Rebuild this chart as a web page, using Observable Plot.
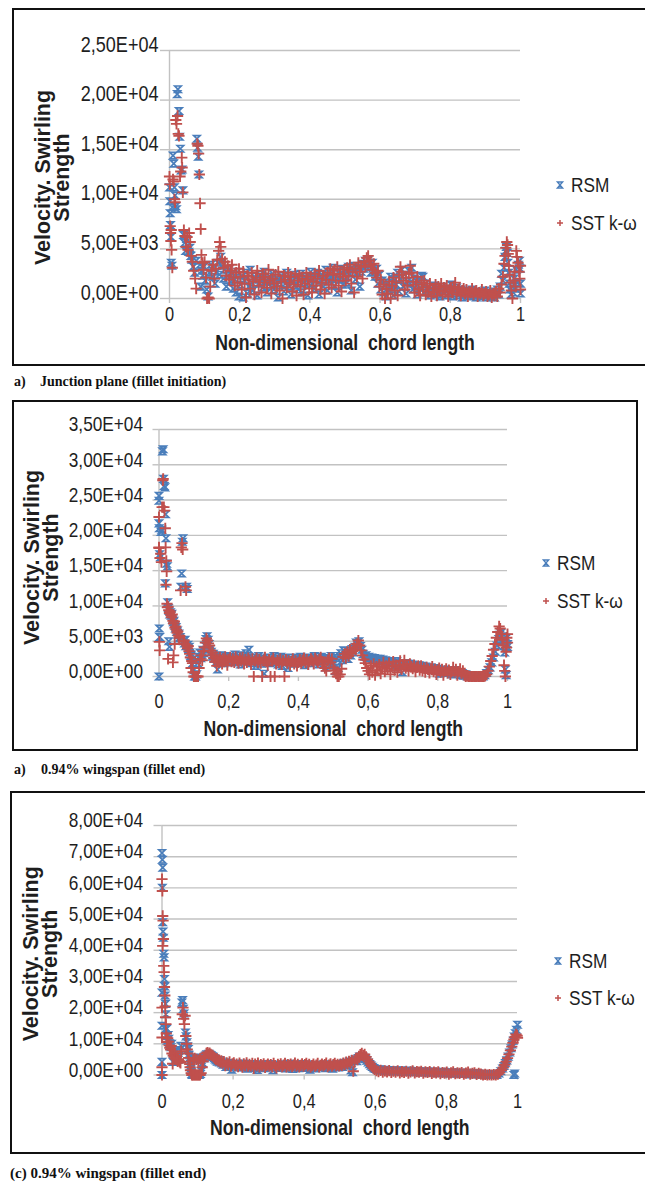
<!DOCTYPE html>
<html><head><meta charset="utf-8">
<script src="https://cdn.jsdelivr.net/npm/d3@7"></script>
<script src="https://cdn.jsdelivr.net/npm/@observablehq/plot@0.6"></script>
<style>
html,body{margin:0;padding:0;background:#fff;overflow:hidden;width:645px;height:1185px;position:relative;}
.box{position:absolute;border:2px solid #111;box-sizing:border-box;}
.svgwrap{position:absolute;left:0;}
.leg{position:absolute;font-family:"Liberation Sans",Arial,sans-serif;font-size:21px;color:#1e1e1e;}
.leg .row{display:flex;align-items:center;white-space:nowrap;}
.leg .row span{display:inline-block;transform:scaleX(0.82);transform-origin:left center;margin-left:6px;}
.leg svg{overflow:visible;}
.cap{position:absolute;font-family:"Liberation Serif","Times New Roman",serif;font-weight:bold;white-space:pre;color:#111;line-height:16px;}
</style></head><body>
<script>
// ---------- data ----------
const xTicks = [0, 0.2, 0.4, 0.6, 0.8, 1];
const yTicksA = [0, 5000, 10000, 15000, 20000, 25000];
const yTicksB = [0, 5000, 10000, 15000, 20000, 25000, 30000, 35000];
const yTicksC = [0, 10000, 20000, 30000, 40000, 50000, 60000, 70000, 80000];
const seriesNames = ["RSM", "SST k-ω"];
const xTitle = "Non-dimensional  chord length";
const yTitle = "Velocity. Swirling\nStrength";
const captions = [["a)", "Junction plane (fillet initiation)"], ["a)", "0.94% wingspan (fillet end)"], ["", "(c) 0.94% wingspan (fillet end)"]];

// panel (a) junction plane
const rsmA = [[0,11200],[.001,9800],[.002,8600],[.003,7400],[.004,6200],[.005,3600],[.007,3300],[.008,9200],[.01,14400],[.012,13600],[.014,11200],[.016,10400],[.018,9300],[.02,9000],[.022,20600],[.024,21100],[.027,18900],[.029,16300],[.031,15100],[.033,12900],[.036,13000],[.038,10900],[.04,6400],[.043,5600],[.046,4800],[.049,6000],[.052,5400],[.055,4700],[.058,5100],[.061,4300],[.064,3900],[.068,3200],[.072,2600],[.076,3800],[.078,16100],[.08,15200],[.082,14300],[.084,12500],[.087,3400],[.089,1200],[.092,2800],[.095,2300],[.098,3200],
[.102,1800],[.106,900],[.11,200],[.114,2600],[.118,3400],[.122,2200],[.126,3100],[.13,1500],[.134,2700],[.138,3600],[.142,2400],[.146,4200],[.15,3300],[.154,2000],[.158,2900],[.162,1200],[.166,2300],[.17,3000],[.174,1700],[.178,2500],[.182,1000],[.186,1900],[.19,600],[.194,2700],[.198,200],
[.202,1400],[.206,2300],[.21,100],[.214,1800],[.218,2600],[.222,500],[.226,1200],[.23,2900],[.234,1600],[.238,800],[.242,2200],[.246,1900],[.25,300],[.254,1500],[.258,2400],[.262,2000],[.266,1100],[.27,2700],[.274,1800],[.278,600],[.282,1400],[.286,2200],[.29,1700],[.294,2500],[.298,900],[.302,1300],[.306,2100],[.31,100],[.314,1600],[.318,2300],[.322,1900],[.326,700],[.33,1500],[.334,2600],[.338,2000],[.342,1200],[.346,400],[.35,1800],[.354,2400],[.358,1300],[.362,2100],[.366,900],[.37,1700],[.374,2500],[.378,600],[.382,1600],[.386,2200],[.39,1400],[.394,300],[.398,2000],[.402,2700],[.406,1500],[.41,2300],[.414,1000],[.418,1900],[.422,2600],[.426,400],[.43,1800],[.434,2400],[.438,1200],[.442,2100],[.446,2900],[.45,800],[.454,1700],[.458,2500],[.462,2000],[.466,3100],[.47,1300],[.474,2200],[.478,600],[.482,2700],[.486,1900],[.49,3000],[.494,1400],[.498,2300],
[.502,2800],[.506,1600],[.51,3200],[.514,2500],[.518,800],[.522,2900],[.526,3300],[.53,1900],[.534,2600],[.538,3100],[.542,1200],[.546,2700],[.55,3500],[.554,3000],[.558,3800],[.562,3400],[.566,3900],[.57,3200],[.574,2600],[.578,3600],[.582,2800],[.586,2200],[.59,3000],[.594,1500],[.598,2400],[.602,900],[.606,1800],[.61,600],[.614,1300],[.618,200],
[.622,1600],[.626,800],[.63,2200],[.634,1100],[.638,300],[.642,1900],[.646,1400],[.65,2600],[.654,700],[.658,2000],[.662,2900],[.666,1200],[.67,2400],[.674,500],[.678,1700],[.682,2800],[.686,1500],[.69,3100],[.694,900],[.698,2000],[.702,1300],[.706,400],[.71,1800],[.714,1100],[.718,2300],[.722,2200],[.726,600],[.73,1500],[.734,900],[.738,1200],[.742,300],[.746,1000],
[.75,700],[.754,1300],[.758,400],[.762,900],[.766,1100],[.77,200],[.774,800],[.778,1200],[.782,500],[.786,900],[.79,300],[.794,1000],[.798,600],[.802,1400],[.806,200],[.81,800],[.814,500],[.818,1100],[.822,300],[.826,700],[.83,900],[.834,100],[.838,600],[.842,800],[.846,400],[.85,700],[.854,200],[.858,500],[.862,900],[.866,300],[.87,600],[.874,100],[.878,400],[.882,700],[.886,200],[.89,500],[.894,300],[.898,800],[.902,100],[.906,400],[.91,600],[.914,200],[.918,300],[.922,700],[.926,100],[.93,500],[.934,900],[.938,400],[.942,1200],
[.946,2500],[.95,1800],[.953,3100],[.956,4200],[.958,4800],[.96,5200],[.962,4600],[.964,3600],[.966,2600],[.968,1500],[.97,900],[.973,400],[.976,1200],[.979,600],[.982,2000],[.985,1000],[.988,2900],[.991,1600],[.994,3400],[.997,3800],[.999,3000],[1,1500],[1,500]];
const sstA = [[0,12300],[.001,11500],[.002,7300],[.003,6600],[.004,5800],[.005,6900],[.006,4900],[.008,3100],[.01,12000],[.012,11800],[.014,10000],[.016,9700],[.018,18000],[.02,17600],[.023,18400],[.025,16600],[.027,16400],[.03,12300],[.032,12800],[.035,14200],[.036,13200],[.038,10700],[.041,6900],[.044,6300],[.047,5200],[.05,6200],[.053,4900],[.056,6600],[.059,5700],[.062,4300],[.065,3700],[.069,2800],[.073,2000],[.076,1000],[.079,15600],[.081,15400],[.083,14600],[.085,12500],[.087,9600],[.089,7000],[.091,4400],[.094,3600],[.097,2900],[.1,3700],
[.104,2100],[.107,0],[.11,100],[.113,0],[.116,1200],[.12,2800],[.124,3400],[.128,2000],[.132,3000],[.136,3900],[.14,4800],[.143,5700],[.146,5200],[.15,4000],[.154,3100],[.158,3700],[.162,2300],[.166,3300],[.17,1900],[.174,2800],[.178,3400],[.182,2100],[.186,1300],[.19,2600],[.194,1600],[.198,3000],
[.202,2200],[.206,900],[.21,2700],[.214,1500],[.218,100],[.222,2300],[.226,1900],[.23,1000],[.234,2600],[.238,1700],[.242,400],[.246,2100],[.25,2800],[.254,1300],[.258,1900],[.262,600],[.266,2500],[.27,1600],[.274,2200],[.278,1100],[.282,2900],[.286,1800],[.29,500],[.294,2000],[.298,1500],[.302,2400],[.306,1200],[.31,2700],[.314,800],[.318,1700],[.322,0],[.326,2300],[.33,1900],[.334,1100],[.338,2600],[.342,1600],[.346,2200],[.35,700],[.354,1400],[.358,2500],[.362,300],[.366,1800],[.37,2300],[.374,1200],[.378,2000],[.382,400],[.386,1500],[.39,2600],[.394,1900],[.398,1000],[.402,2200],[.406,600],[.41,1700],[.414,2500],[.418,1300],[.422,2000],[.426,2800],[.43,900],[.434,1600],[.438,2300],[.442,500],[.446,1900],[.45,2600],[.454,1400],[.458,3000],[.462,1100],[.466,2400],[.47,2900],[.474,1800],[.478,3200],[.482,1300],[.486,2500],[.49,700],[.494,2200],[.498,2900],
[.502,1800],[.506,3100],[.51,2300],[.514,3400],[.518,1500],[.522,2700],[.526,600],[.53,3000],[.534,2200],[.538,3600],[.542,2700],[.546,3300],[.55,2000],[.554,3700],[.558,3200],[.562,4100],[.566,4300],[.57,3800],[.574,3400],[.578,2900],[.582,3500],[.586,2600],[.59,2100],[.594,2800],[.598,1200],[.602,1900],[.606,400],[.61,1400],[.614,0],[.618,1000],
[.622,500],[.626,1700],[.63,0],[.634,1300],[.638,2100],[.642,800],[.646,1600],[.65,300],[.654,2400],[.658,3200],[.662,2700],[.666,1800],[.67,900],[.674,2100],[.678,1300],[.682,2500],[.686,3300],[.69,2600],[.694,1700],[.698,600],[.702,1400],[.706,2200],[.71,900],[.714,300],[.718,1600],[.722,1100],[.726,1800],[.73,400],[.734,1300],[.738,700],[.742,1500],[.746,200],
[.75,1000],[.754,600],[.758,1400],[.762,300],[.766,1200],[.77,800],[.774,1500],[.778,400],[.782,1100],[.786,700],[.79,1300],[.794,200],[.798,900],[.802,1000],[.806,600],[.81,1200],[.814,1600],[.818,400],[.822,900],[.826,1100],[.83,300],[.834,800],[.838,1000],[.842,500],[.846,900],[.85,200],[.854,700],[.858,600],[.862,1000],[.866,400],[.87,700],[.874,800],[.878,200],[.882,600],[.886,500],[.89,900],[.894,300],[.898,500],[.902,700],[.906,200],[.91,400],[.914,800],[.918,100],[.922,500],[.926,300],[.93,700],[.934,200],[.938,1000],[.942,600],
[.946,1400],[.95,2200],[.953,3500],[.956,4300],[.958,5100],[.961,5700],[.963,5400],[.965,4500],[.967,3300],[.969,2400],[.971,1600],[.974,800],[.977,0],[.98,1800],[.983,2700],[.986,1200],[.988,4800],[.99,4200],[.993,3600],[.996,2700],[.998,2000],[1,900],[1,3300]];

// panel (b) 0.94% wingspan
const rsmB = [[0,25600],[0,24900],[0,21700],[.001,21000],[.002,17300],[.001,6800],[.002,5600],[0,0],[.004,16900],[.006,20500],[.008,20800],[.01,31900],[.012,32200],[.013,28000],[.015,27000],[.017,26800],[.019,23000],[.02,19600],[.022,16000],[.018,13200],[.024,15600],[.025,10500],[.027,9700],[.029,9300],[.031,8800],[.028,5000],[.03,4200],
[.033,9100],[.035,8600],[.037,8900],[.039,8100],[.041,7700],[.043,7900],[.045,7200],[.047,6800],[.049,7000],[.051,6300],[.053,6500],[.055,5900],[.057,6100],[.059,5400],[.061,5600],[.063,12700],[.065,14600],[.067,19100],[.069,19600],[.071,5000],[.073,4700],[.075,5200],[.077,4300],[.079,12700],[.081,12400],[.083,4500],[.085,3900],[.087,4200],[.089,3400],[.091,2900],[.093,3100],[.095,1800],[.097,2400],[.1,900],
[.102,0],[.105,0],[.108,300],[.111,1900],[.114,2800],[.117,3400],[.12,2600],[.123,3100],[.126,3800],[.129,3300],[.132,4400],[.135,5300],[.138,5700],[.141,5200],[.144,4600],[.147,3900],[.15,3500],[.153,2800],[.156,3200],[.159,2500],[.162,2900],[.165,2100],[.168,1000],[.171,2600],[.174,2300],[.177,3000],[.18,2200],[.183,2700],[.186,1900],[.189,2400],[.192,2900],[.195,2100],[.198,2600],
[.202,2300],[.206,2800],[.21,2000],[.214,2600],[.218,3100],[.222,2200],[.226,2500],[.23,3000],[.234,1700],[.238,2400],[.242,2900],[.246,2100],[.25,3300],[.254,2600],[.258,3800],[.262,2300],[.266,1900],[.27,2700],[.274,2200],[.278,1500],[.282,2600],[.286,2900],[.29,2300],[.294,1800],[.298,2500],[.302,400],[.306,2100],[.31,2700],[.314,2200],[.318,1900],[.322,2600],[.326,2300],[.33,2900],[.334,2000],[.338,2500],[.342,1700],[.346,2200],[.35,2800],[.354,1500],[.358,2100],[.362,2600],[.366,2300],[.37,1200],[.374,2000],[.378,2700],[.382,2200],[.386,1800],[.39,2400],[.394,2600],[.398,1900],[.402,2300],[.406,2800],[.41,2100],[.414,2500],[.418,1600],[.422,2200],[.426,2700],[.43,2400],[.434,1900],[.438,2600],[.442,2300],[.446,2900],[.45,2100],[.454,2500],[.458,1700],[.462,2400],[.466,2800],[.47,2200],[.474,2600],[.478,1300],[.482,2500],[.486,2200],[.49,1600],[.494,2900],[.498,2400],
[.502,1900],[.506,800],[.51,2600],[.514,1200],[.518,2900],[.522,3300],[.526,2300],[.53,3700],[.534,2800],[.538,3300],[.542,2500],[.546,3600],[.55,3000],[.554,3900],[.558,3400],[.562,4200],[.566,4800],[.57,4500],[.574,5000],[.578,4300],[.582,3800],[.586,3200],[.59,2800],[.594,3000],[.598,2700],[.602,2800],[.606,2600],
[.61,2700],[.614,2500],[.618,2600],[.622,2400],[.626,2500],[.63,2300],[.634,2500],[.638,2200],[.642,2400],[.646,2100],[.65,2300],[.654,2000],[.658,2200],[.662,1900],[.666,2100],[.67,1300],[.674,2000],[.678,1800],[.682,2200],[.686,1600],[.69,1900],[.694,1700],[.698,600],[.702,1800],[.706,1500],[.71,1900],[.714,1600],[.718,1800],[.722,1400],[.726,1700],[.73,1300],[.734,1600],[.738,1500],[.742,1200],[.746,1600],
[.75,1300],[.755,1500],[.76,1100],[.765,1400],[.77,1200],[.775,1000],[.78,1300],[.785,900],[.79,1200],[.795,800],[.8,1100],[.805,400],[.81,900],[.815,1000],[.82,700],[.825,900],[.83,500],[.835,800],[.84,300],[.845,700],[.85,900],[.855,400],[.86,600],[.865,200],[.87,500],[.875,100],[.88,300],[.885,0],[.89,200],[.895,0],[.9,0],[.905,100],[.91,0],[.915,0],[.92,0],[.925,100],[.93,0],[.935,200],[.94,500],[.945,900],
[.95,1300],[.955,2000],[.96,2700],[.965,3500],[.97,4400],[.975,5300],[.978,5900],[.981,6200],[.984,5700],[.987,5000],[.99,4300],[.992,3400],[.994,1000],[.996,200],[.998,5500],[1,4600],[1,4200]];
const sstB = [[0,18200],[0,22600],[0,18300],[.001,4900],[.002,3700],[.003,16800],[.005,17400],[.007,16200],[.009,24000],[.011,27800],[.012,28000],[.014,24000],[.016,23500],[.018,21000],[.019,18300],[.021,16400],[.022,14900],[.02,13000],[.023,10300],[.024,9800],[.026,9900],[.028,9400],[.03,9000],[.026,2500],
[.032,9200],[.034,8700],[.036,8400],[.038,8800],[.04,7900],[.042,7500],[.044,7800],[.046,6900],[.048,7100],[.05,6600],[.052,6200],[.054,6400],[.056,5800],[.058,5500],[.06,5700],[.062,12200],[.064,18300],[.066,18900],[.068,18000],[.07,4900],[.072,5100],[.074,4600],[.076,12700],[.078,12200],[.08,4400],[.082,4000],[.084,4300],[.086,3600],[.088,3200],[.09,2700],[.092,1200],[.094,2200],[.096,1900],[.098,600],[.045,4600],[.042,3000],[.04,2000],
[.1,0],[.103,0],[.106,0],[.109,0],[.112,0],[.115,1200],[.118,2500],[.121,3000],[.124,2300],[.127,3600],[.13,4100],[.133,4800],[.136,5400],[.139,5100],[.142,4700],[.145,4400],[.148,3700],[.151,3000],[.154,3400],[.157,2600],[.16,2100],[.163,2800],[.166,1500],[.169,2400],[.172,2000],[.175,2700],[.178,2300],[.181,1800],[.184,2500],[.187,2100],[.19,2800],[.193,2300],[.196,1600],[.199,2400],
[.204,2700],[.208,2100],[.212,2500],[.216,2000],[.22,2800],[.224,2300],[.228,1900],[.232,2600],[.236,2200],[.24,2700],[.244,1800],[.248,2400],[.252,2000],[.256,2600],[.26,2300],[.264,1700],[.268,2500],[.272,0],[.276,2200],[.28,2600],[.284,2000],[.288,2400],[.292,1900],[.296,0],[.3,2300],[.304,2700],[.308,2100],[.312,1600],[.316,2400],[.32,0],[.324,2200],[.328,2600],[.332,0],[.336,1800],[.34,2300],[.344,2000],[.348,2500],[.352,1700],[.356,2200],[.36,0],[.364,2400],[.368,1900],[.372,2200],[.376,1600],[.38,2100],[.384,2500],[.388,1800],[.392,2200],[.396,1500],[.4,2000],[.404,2400],[.408,1900],[.412,2300],[.416,2600],[.42,2000],[.424,2400],[.428,1700],[.432,2100],[.436,2500],[.44,2200],[.444,1800],[.448,2600],[.452,2300],[.456,2000],[.46,2400],[.464,2700],[.468,2100],[.472,1700],[.476,1200],[.48,800],[.484,2300],[.488,2600],[.492,2000],[.496,2500],
[.5,1300],[.504,900],[.508,400],[.512,0],[.516,0],[.52,300],[.524,1100],[.528,2800],[.532,3200],[.536,2600],[.54,3500],[.544,2900],[.548,3800],[.552,3300],[.556,3600],[.56,4100],[.564,3800],[.568,4600],[.572,5100],[.576,4400],[.58,3700],[.584,3000],[.588,2400],[.592,1900],[.596,1200],[.6,800],[.604,300],[.608,1500],
[.612,600],[.616,1800],[.62,200],[.624,1400],[.628,900],[.632,1700],[.636,400],[.64,1300],[.644,2000],[.648,700],[.652,1500],[.656,1100],[.66,1900],[.664,300],[.668,1400],[.672,2100],[.676,900],[.68,1600],[.684,600],[.688,1300],[.692,2200],[.696,1000],[.7,1700],[.704,2300],[.708,1200],[.712,1500],[.716,800],[.72,1800],[.724,1400],[.728,1100],[.732,1600],[.736,700],[.74,1300],[.744,1500],[.748,900],
[.752,1500],[.756,800],[.76,1200],[.764,600],[.768,1300],[.772,1000],[.776,500],[.78,1100],[.784,1400],[.788,700],[.792,1000],[.796,300],[.8,900],[.804,1200],[.808,600],[.812,1000],[.816,200],[.82,800],[.824,1100],[.828,500],[.832,900],[.836,300],[.84,700],[.844,1300],[.848,600],[.852,1000],[.856,200],[.86,700],[.864,1100],[.868,400],[.872,800],[.876,200],[.88,0],[.884,100],[.888,0],[.892,0],[.896,0],[.9,0],[.904,0],[.908,0],[.912,0],[.916,0],[.92,0],[.924,0],[.928,0],[.932,0],[.936,100],[.94,300],[.944,800],
[.948,1400],[.952,2200],[.956,2900],[.96,3800],[.964,4600],[.968,5500],[.972,6300],[.976,7100],[.979,6800],[.982,6000],[.985,5200],[.988,4400],[.99,1600],[.992,800],[.994,0],[.996,3500],[.998,5500],[1,6000],[1,4800],[.997,4100]];

// panel (c) 0.94% wingspan
const rsmC = [[0,71200],[.001,69000],[.002,66500],[.001,60000],[.002,49000],[.003,46000],[.004,44000],[0,26400],[0,15800],[0,4200],[0,0],[.005,38900],[.006,37700],[.007,30800],[.008,28400],[.009,25500],[.01,22800],[.011,19500],[.012,15000],[.013,14800],[.014,12500],[.015,11000],
[.017,12800],[.019,11600],[.021,10200],[.023,9400],[.025,8900],[.027,10000],[.029,7300],[.031,4200],[.033,6800],[.035,6200],[.037,7500],[.039,5600],[.041,6100],[.043,5300],[.045,4800],[.047,5500],[.05,8000],[.053,9400],[.056,23200],[.058,24000],[.06,21200],[.062,19700],[.066,13600],[.068,12400],[.07,10500],[.072,9200],[.074,8300],[.076,6500],[.078,5400],[.079,4600],[.08,3700],[.081,3000],[.082,2100],[.083,1000],[.084,300],[.085,0],
[.087,0],[.09,0],[.093,0],[.096,0],[.099,0],[.102,0],[.105,0],[.108,300],[.111,1200],[.114,3900],[.09,5200],[.095,5600],[.1,5100],[.105,5400],[.11,4800],[.117,5300],[.12,5900],[.123,6200],[.126,6600],[.129,6400],[.132,6800],[.135,6500],[.138,6300],[.141,6000],[.144,5800],[.147,5400],[.15,5000],[.153,4700],[.156,4300],[.159,4800],[.162,4000],[.165,4400],[.168,3700],
[.172,3300],[.176,4100],[.18,2600],[.184,3500],[.188,3000],[.192,3800],[.196,1700],[.2,3200],[.204,2700],[.208,3600],[.212,3100],[.216,2400],[.22,3400],[.224,2900],[.228,3700],[.232,2500],[.236,3200],[.24,2000],[.244,3000],[.248,3500],[.252,2600],[.256,3100],[.26,2300],[.264,3300],[.268,1600],[.272,2800],[.276,3400],[.28,2600],[.284,3000],[.288,2200],[.292,3200],[.296,2700],[.3,3500],[.304,2400],[.308,2900],[.312,1500],[.316,3100],[.32,2600],[.324,3300],[.328,2300],[.332,2800],[.336,3400],[.34,2500],[.344,3000],[.348,2100],[.352,3200],[.356,2700],[.36,3600],[.364,2400],[.368,1900],[.372,3100],[.376,2600],[.38,3300],[.384,2200],[.388,2900],[.392,3500],[.396,2500],[.4,3000],[.404,2300],[.408,3400],[.412,2700],[.416,1700],[.42,3200],[.424,2600],[.428,3000],[.432,2100],[.436,3300],[.44,2800],[.444,2400],[.448,3100],[.452,2600],[.456,3400],[.46,2200],[.464,2900],[.468,3300],[.472,2500],[.476,3000],[.48,2000],[.484,3200],[.488,2700],[.492,3500],[.496,2400],
[.5,3000],[.504,3400],[.508,2600],[.512,3800],[.516,3100],[.52,4000],[.524,3500],[.528,4300],[.532,1500],[.536,900],[.54,4600],[.544,5000],[.548,4400],[.552,5400],[.556,5900],[.56,5200],[.564,6000],[.568,5500],[.572,5100],[.576,4600],[.58,4000],[.584,3500],[.588,3000],[.592,2600],[.596,2200],
[.6,1900],[.606,1600],[.612,1800],[.618,1400],[.624,1700],[.63,1300],[.636,1600],[.642,1200],[.648,1500],[.654,1100],[.66,1400],[.666,1200],[.672,1500],[.678,1000],[.684,1300],[.69,1100],[.696,1400],[.702,900],[.708,1200],[.714,1000],[.72,1300],[.726,800],[.732,1100],[.738,900],[.744,1200],[.75,700],[.756,1000],[.762,800],[.768,1100],[.774,600],[.78,900],[.786,700],[.792,1000],[.798,500],[.804,800],[.81,600],[.816,900],[.822,400],[.828,700],[.834,500],[.84,800],[.846,300],[.852,600],[.858,400],[.864,700],[.87,200],[.876,500],[.882,300],[.888,600],[.894,100],[.9,400],[.906,200],[.912,0],[.918,300],[.924,100],[.93,0],[.936,200],[.942,0],[.948,500],
[.953,1200],[.958,2100],[.962,2900],[.966,3800],[.97,4700],[.974,5900],[.978,7200],[.982,8600],[.985,9800],[.988,11000],[.991,12300],[.994,13400],[.997,14500],[1,16100],[.99,0],[.992,500]];
const sstC = [[0,62800],[.001,59000],[.002,51000],[.003,49500],[.004,43600],[.002,41400],[.005,35000],[0,21600],[0,12000],[0,2500],[0,0],[.006,33000],[.007,28200],[.008,25500],[.009,22000],[.01,18500],[.011,16300],[.012,13300],[.013,12100],[.014,10600],
[.016,11800],[.018,10700],[.02,9500],[.022,8700],[.024,8200],[.026,9300],[.028,6900],[.03,3600],[.032,6300],[.034,5800],[.036,7000],[.038,5200],[.04,5700],[.042,4900],[.044,4400],[.046,5100],[.048,4600],[.05,4200],[.052,3900],[.054,7600],[.057,19500],[.059,21600],[.061,18000],[.063,16300],[.065,19000],[.067,12500],[.069,10000],[.071,8200],[.073,6900],[.075,5500],[.077,4300],[.078,3500],[.079,2500],[.08,1500],[.082,600],[.084,0],
[.086,0],[.089,0],[.092,0],[.095,0],[.098,0],[.101,0],[.104,0],[.107,0],[.11,600],[.113,2500],[.116,4400],[.088,4800],[.092,5300],[.097,5000],[.102,4700],[.107,5200],[.119,5600],[.122,6100],[.125,6900],[.128,7200],[.131,6700],[.134,7000],[.137,6600],[.14,6400],[.143,6100],[.146,5700],[.149,5300],[.152,4900],[.155,5200],[.158,4500],[.161,4800],[.164,4100],[.167,4500],
[.17,3800],[.174,4300],[.178,3000],[.182,3900],[.186,3300],[.19,4200],[.194,2800],[.198,3600],[.202,3900],[.206,3000],[.21,3500],[.214,2700],[.218,3800],[.222,3200],[.226,2500],[.23,3600],[.234,3000],[.238,3900],[.242,2800],[.246,3400],[.25,2900],[.254,3700],[.258,2100],[.262,3500],[.266,3000],[.27,3800],[.274,2600],[.278,3300],[.282,2900],[.286,3600],[.29,2400],[.294,3100],[.298,3500],[.302,2800],[.306,3300],[.31,2600],[.314,3700],[.318,3000],[.322,2300],[.326,3400],[.33,2900],[.334,3600],[.338,2700],[.342,3200],[.346,3700],[.35,2600],[.354,3300],[.358,2900],[.362,3500],[.366,2700],[.37,3200],[.374,3800],[.378,2900],[.382,3400],[.386,2600],[.39,3100],[.394,3600],[.398,2800],[.402,3300],[.406,3700],[.41,2900],[.414,3400],[.418,2500],[.422,3000],[.426,3500],[.43,2800],[.434,3200],[.438,3700],[.442,2600],[.446,3100],[.45,3500],[.454,2900],[.458,3300],[.462,3800],[.466,2700],[.47,3200],[.474,3600],[.478,2800],[.482,3300],[.486,3700],[.49,3000],[.494,3400],[.498,2900],
[.502,3500],[.506,3100],[.51,3800],[.514,3300],[.518,4100],[.522,3600],[.526,4400],[.53,3900],[.534,4700],[.538,1200],[.542,4200],[.546,5300],[.55,4900],[.554,6000],[.558,6500],[.562,6900],[.566,6200],[.57,6600],[.574,5800],[.578,5000],[.582,4300],[.586,3600],[.59,2900],[.594,2300],[.598,1800],
[.603,1400],[.609,1100],[.615,1500],[.621,900],[.627,1300],[.633,1000],[.639,1400],[.645,800],[.651,1200],[.657,900],[.663,1300],[.669,700],[.675,1100],[.681,800],[.687,1200],[.693,600],[.699,1000],[.705,1300],[.711,700],[.717,1100],[.723,900],[.729,1200],[.735,600],[.741,1000],[.747,800],[.753,1100],[.759,500],[.765,900],[.771,700],[.777,1000],[.783,400],[.789,800],[.795,600],[.801,900],[.807,300],[.813,700],[.819,1000],[.825,400],[.831,700],[.837,500],[.843,800],[.849,300],[.855,600],[.861,900],[.867,300],[.873,500],[.879,700],[.885,200],[.891,500],[.897,300],[.903,0],[.909,200],[.915,0],[.921,100],[.927,0],[.933,100],[.939,0],[.945,300],
[.95,800],[.955,1600],[.96,2400],[.964,3300],[.968,4300],[.972,5400],[.976,6600],[.98,7900],[.984,9100],[.987,10300],[.99,11400],[.993,12200],[.996,13000],[.999,12600],[1,11900]];

// ---------- layout / style ----------
const SANS = '"Liberation Sans",Arial,sans-serif';
const SQUEEZE = 0.82;  // narrow-face look
const BLUE = "#4a7ebb", RED = "#c0504d", GRID = "#c2c2c2", INK = "#1e1e1e";

const hourglass = {draw(ctx, size) {
  const s = Math.sqrt(size / Math.PI);
  ctx.moveTo(-s, -s); ctx.lineTo(s, -s); ctx.lineTo(-s, s); ctx.lineTo(s, s); ctx.closePath();
}};
function sci(v) {
  const [m, e] = v.toExponential(2).split("e");
  const n = +e;
  return m.replace(".", ",") + "E" + (n < 0 ? "-" : "+") + String(Math.abs(n)).padStart(2, "0");
}
const commaFmt = d => String(d).replace(".", ",");

const panels = [
  {rsm: rsmA, sst: sstA, yTicks: yTicksA, top: 0, w: 540, h: 372, ml: 169, mr: 20, mt: 50, mb: 74,
   yTick: 9, yPad: 2, yFont: 22, yDy: -6, xPad: 8, xTitleDy: 45, yTitleDx: -116.5, yTitleDy: 3,
   box: {left: 12, top: 8, width: 633, height: 358, right: false},
   legend: {left: 555, top: 166, row: 38}, cap: {top: 374, size: 14, left: 14, textLeft: 40}},
  {rsm: rsmB, sst: sstB, yTicks: yTicksB, top: 400, w: 520, h: 346, ml: 158.5, mr: 13, mt: 29, mb: 70,
   yTick: 6, yPad: 10, yFont: 21, yDy: -5, xPad: 17, xTitleDy: 53, yTitleDx: -116.5, yTitleDy: 4.5,
   box: {left: 12, top: 400, width: 626, height: 351, right: true},
   legend: {left: 541, top: 544, row: 38}, cap: {top: 762, size: 14, left: 14, textLeft: 41}},
  {rsm: rsmC, sst: sstC, yTicks: yTicksC, top: 790, w: 530, h: 356, ml: 161.5, mr: 13, mt: 35, mb: 71.5,
   yTick: 8, yPad: 11, yFont: 21, yDy: -5, xPad: 19, xTitleDy: 53, yTitleDx: -121, yTitleDy: 3.5,
   box: {left: 10, top: 791, width: 635, height: 363, right: false},
   legend: {left: 552.5, top: 942, row: 37}, cap: {top: 1165, size: 15, left: 10, textLeft: 10}}
];

panels.forEach((p, i) => {
  const box = document.createElement("div");
  box.className = "box";
  Object.assign(box.style, {left: p.box.left + "px", top: p.box.top + "px", width: p.box.width + "px", height: p.box.height + "px"});
  if (!p.box.right) box.style.borderRight = "none";
  document.body.appendChild(box);

  const yMax = p.yTicks[p.yTicks.length - 1];
  const chart = Plot.plot({
    width: p.w, height: p.h,
    marginLeft: p.ml, marginRight: p.mr, marginTop: p.mt, marginBottom: p.mb,
    x: {domain: [0, 1]},
    y: {domain: [0, yMax]},
    style: {background: "transparent", overflow: "visible", fontFamily: SANS, color: INK},
    marks: [
      Plot.gridY(p.yTicks, {stroke: GRID, strokeOpacity: 1, strokeWidth: 1.4}),
      Plot.ruleX([0], {stroke: GRID, strokeWidth: 1.4}),
      Plot.axisY(p.yTicks, {tickSize: p.yTick, tickFormat: () => "", stroke: GRID, strokeWidth: 1.4, label: null}),
      Plot.axisY(p.yTicks, {tickSize: 0, tickPadding: p.yTick + p.yPad, tickFormat: sci, fontSize: p.yFont, fontFamily: SANS, fill: INK, dy: p.yDy, label: null, className: "squeeze"}),
      Plot.axisX(xTicks, {tickSize: 5, tickFormat: () => "", stroke: GRID, strokeWidth: 1.4, label: null}),
      Plot.axisX(xTicks, {tickSize: 0, tickPadding: p.xPad, tickFormat: commaFmt, fontSize: 20, fontFamily: SANS, fill: INK, label: null, className: "squeeze"}),
      Plot.dot(p.rsm, {x: d => d[0], y: d => d[1], symbol: hourglass, r: 3.2, stroke: BLUE, strokeWidth: 1.7, fill: "none"}),
      Plot.dot(p.sst, {x: d => d[0], y: d => d[1], symbol: "plus", r: 3.7, stroke: RED, strokeWidth: 1.9}),
      Plot.text([xTitle], {frameAnchor: "bottom", text: d => d, dy: p.xTitleDy, textAnchor: "middle", lineAnchor: "middle", fontSize: 21.5, fontWeight: "bold", fontFamily: SANS, fill: INK, className: "squeeze"}),
      Plot.text([yTitle], {frameAnchor: "left", text: d => d, rotate: -90, dx: p.yTitleDx, dy: p.yTitleDy, textAnchor: "middle", lineAnchor: "middle", fontSize: 21.5, fontWeight: "bold", fontFamily: SANS, lineHeight: 0.88, fill: INK})
    ]
  });
  const wrap = document.createElement("div");
  wrap.className = "svgwrap";
  wrap.style.top = p.top + "px";
  wrap.appendChild(chart);
  document.body.appendChild(wrap);

  // condensed look for the narrow-face texts
  chart.querySelectorAll(".squeeze text").forEach(t => {
    const L = t.getComputedTextLength();
    if (L > 0) {
      t.setAttribute("textLength", (L * SQUEEZE).toFixed(2));
      t.setAttribute("lengthAdjust", "spacingAndGlyphs");
    }
  });

  // legend
  const leg = document.createElement("div");
  leg.className = "leg";
  leg.style.left = p.legend.left + "px";
  leg.style.top = p.legend.top + "px";
  const icons = [
    `<svg width="10" height="10" viewBox="-5 -5 10 10"><path d="M-2.6,-3H2.6L-2.6,3H2.6Z" fill="none" stroke="${BLUE}" stroke-width="1.4"/></svg>`,
    `<svg width="10" height="10" viewBox="-5 -5 10 10"><path d="M-3,0H3M0,-3V3" fill="none" stroke="${RED}" stroke-width="1.5"/></svg>`
  ];
  seriesNames.forEach((name, k) => {
    const row = document.createElement("div");
    row.className = "row";
    row.style.height = p.legend.row + "px";
    row.innerHTML = icons[k] + `<span>${name}</span>`;
    leg.appendChild(row);
  });
  document.body.appendChild(leg);

  // caption
  const cap = document.createElement("div");
  cap.className = "cap";
  cap.style.top = p.cap.top + "px";
  cap.style.left = p.cap.left + "px";
  cap.style.fontSize = p.cap.size + "px";
  const [lab, txt] = captions[i];
  cap.innerHTML = lab ? `<span>${lab}</span><span style="position:absolute;left:${p.cap.textLeft - p.cap.left}px">${txt}</span>` : txt;
  document.body.appendChild(cap);
});
</script>
</body></html>
